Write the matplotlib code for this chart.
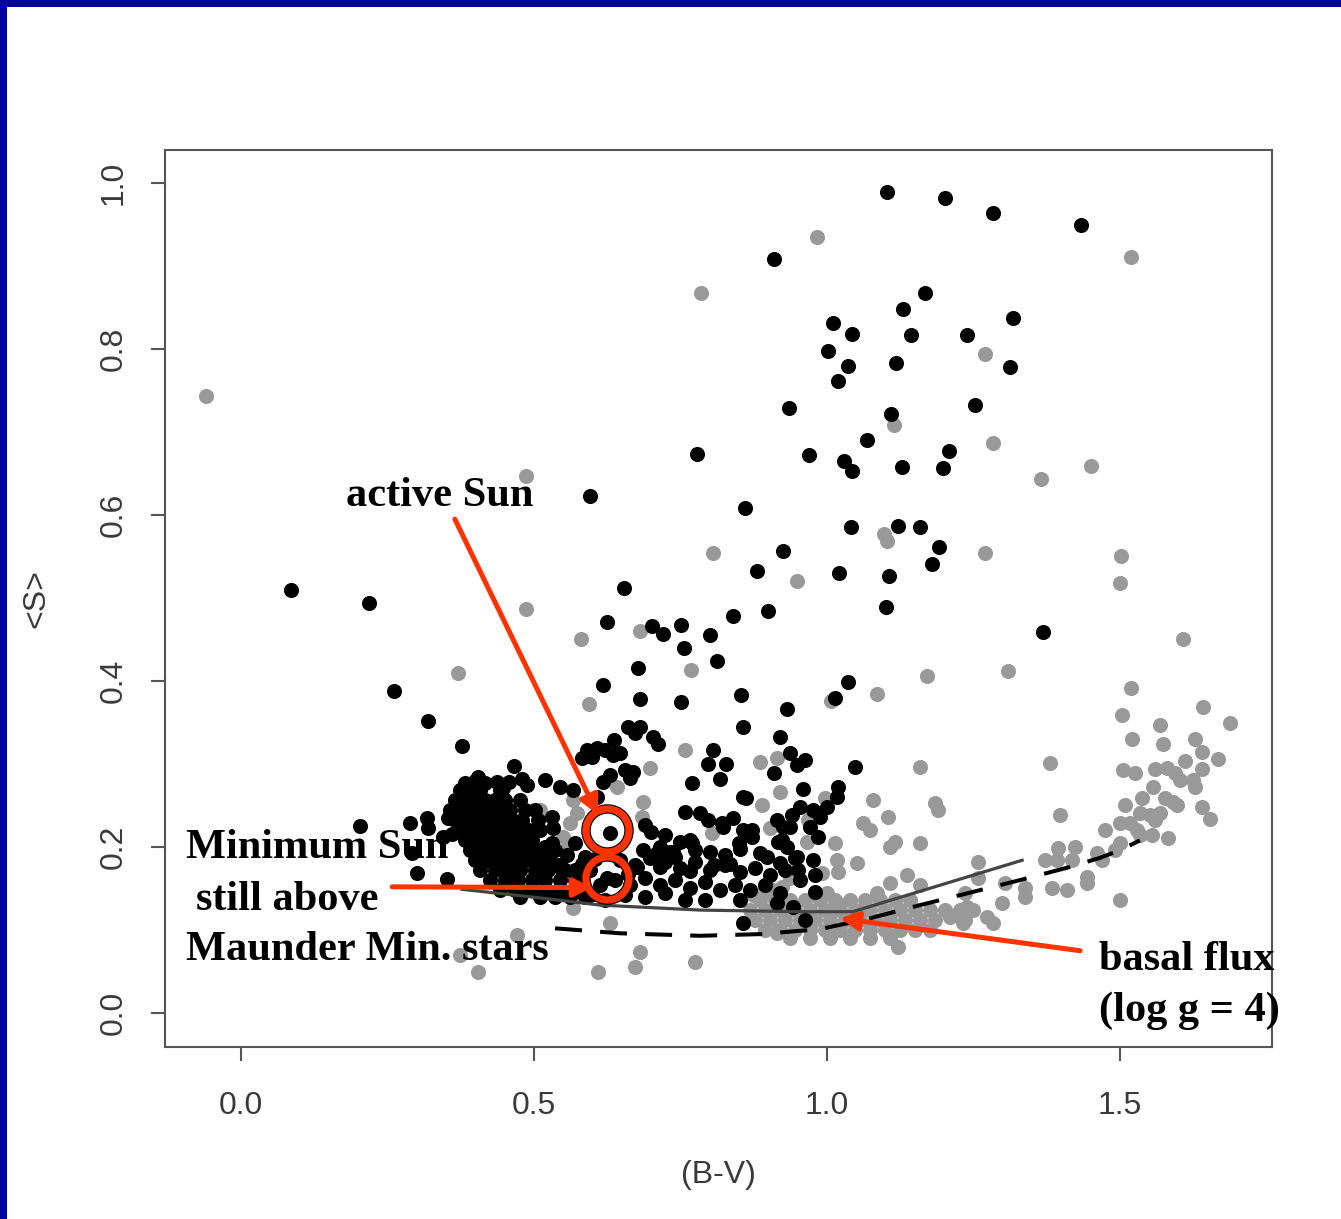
import matplotlib
matplotlib.use("Agg")
import matplotlib.pyplot as plt
from matplotlib.patches import Rectangle

# ---------------------------------------------------------------------------
# Stars with cycling activity (black) and flat / other stars (grey)
# ---------------------------------------------------------------------------
black_bv = [
    1.102, 1.201, 1.283, 1.434, 0.910, 1.168, 1.129, 1.317, 1.010, 1.043,
    1.143, 1.239, 1.002, 1.036, 1.118, 1.312, 1.019, 0.935, 1.253, 1.109,
    1.068, 1.208, 0.778, 0.969, 1.029, 1.043, 1.128, 1.198, 0.596, 0.860,
    1.041, 1.121, 1.159, 0.925, 1.191, 0.881, 1.020, 1.106, 1.179, 0.085,
    0.218, 0.654, 0.899, 1.101, 1.369, 0.625, 0.840, 0.701, 0.720, 0.751,
    0.800, 0.756, 0.812, 0.677, 0.618, 0.261, 1.036, 1.014, 0.853, 0.681,
    0.932, 0.751, 0.319, 0.660, 0.637, 0.857, 0.920, 0.703, 0.712, 0.377,
    1.048, 0.466,
    # dense group of G/K dwarfs
    0.374, 0.391, 0.408, 0.442,
    0.365, 0.382, 0.399, 0.416, 0.433, 0.451, 0.476,
    0.357, 0.374, 0.391, 0.408, 0.425, 0.442, 0.459, 0.485, 0.502,
    0.365, 0.382, 0.404, 0.425, 0.442, 0.462, 0.480, 0.507,
    0.374, 0.391, 0.411, 0.433, 0.451, 0.468, 0.490, 0.510,
    0.382, 0.399, 0.421, 0.439, 0.459, 0.476, 0.497,
    0.391, 0.408, 0.428, 0.451, 0.468, 0.490, 0.510, 0.531,
    0.399, 0.421, 0.442, 0.462, 0.485, 0.507, 0.527,
    0.408, 0.433, 0.456, 0.476, 0.502, 0.524, 0.548,
    0.425, 0.451, 0.473, 0.497, 0.519, 0.544,
    0.442, 0.468, 0.493, 0.519, 0.544, 0.570,
    0.476, 0.510, 0.536, 0.561, 0.587,
    0.203, 0.288, 0.317, 0.319, 0.353, 0.292, 0.300, 0.352,
    0.404, 0.437, 0.447, 0.488, 0.519, 0.544, 0.567, 0.590, 0.608, 0.621,
    0.582, 0.599, 0.635, 0.647, 0.672, 0.681, 0.655, 0.669, 0.664, 0.618,
    0.630, 0.608, 0.531, 0.532, 0.531, 0.570, 0.587, 0.630, 0.625, 0.715,
    0.710, 0.766, 0.737, 0.770, 0.758, 0.783, 0.797, 0.821, 0.840, 0.863,
    0.872, 0.915, 0.925, 0.940, 0.954, 0.976, 0.988, 1.017, 0.971, 0.985,
    0.916, 0.898, 0.949, 0.976, 0.857, 0.857, 0.962, 0.805, 0.797, 0.828,
    0.817, 0.937, 0.962, 0.949, 0.910, 1.019, 0.959, 0.862, 1.000, 0.937,
    0.823, 0.857, 0.872, 0.923, 0.932, 0.770, 0.850, 0.945, 0.951, 0.886,
    0.920,
    0.647, 0.672, 0.698, 0.724, 0.749, 0.775, 0.800, 0.826, 0.852, 0.877,
    0.903, 0.928, 0.954, 0.980,
    0.638, 0.664, 0.689, 0.715, 0.741, 0.766, 0.792, 0.817, 0.843, 0.869,
    0.894, 0.920,
    0.655, 0.689, 0.724, 0.758, 0.792, 0.852, 0.915, 0.942, 0.980,
    0.596, 0.570, 0.596, 0.621,
    # further members of the crowded region
    0.544, 0.570, 0.613, 0.556, 0.582, 0.604, 0.519, 0.536, 0.553,
    0.686, 0.707, 0.732, 0.700, 0.724, 0.749, 0.775, 0.690, 0.715,
    0.741, 0.766, 0.800, 0.826, 0.851, 0.834, 0.808, 0.660, 0.676,
    0.457, 0.480, 0.416, 0.399, 0.382, 0.360, 0.345,
]
black_s = [
    0.989, 0.982, 0.964, 0.949, 0.908, 0.867, 0.848, 0.837, 0.831, 0.818,
    0.817, 0.817, 0.798, 0.780, 0.783, 0.778, 0.761, 0.729, 0.733, 0.722,
    0.690, 0.677, 0.673, 0.672, 0.665, 0.653, 0.658, 0.657, 0.623, 0.608,
    0.586, 0.587, 0.586, 0.557, 0.561, 0.533, 0.530, 0.527, 0.541, 0.510,
    0.494, 0.512, 0.484, 0.489, 0.459, 0.471, 0.478, 0.466, 0.457, 0.467,
    0.455, 0.440, 0.424, 0.416, 0.395, 0.388, 0.399, 0.380, 0.383, 0.378,
    0.366, 0.375, 0.352, 0.345, 0.329, 0.345, 0.333, 0.333, 0.324, 0.322,
    0.296, 0.298,
    0.269, 0.269, 0.269, 0.269,
    0.257, 0.257, 0.257, 0.257, 0.257, 0.257, 0.257,
    0.245, 0.245, 0.245, 0.245, 0.245, 0.245, 0.245, 0.245, 0.245,
    0.233, 0.233, 0.233, 0.233, 0.233, 0.233, 0.233, 0.233,
    0.220, 0.220, 0.220, 0.220, 0.220, 0.220, 0.220, 0.220,
    0.208, 0.208, 0.208, 0.208, 0.208, 0.208, 0.208,
    0.196, 0.196, 0.196, 0.196, 0.196, 0.196, 0.196, 0.196,
    0.184, 0.184, 0.184, 0.184, 0.184, 0.184, 0.184,
    0.172, 0.172, 0.172, 0.172, 0.172, 0.172, 0.172,
    0.160, 0.160, 0.160, 0.160, 0.160, 0.160,
    0.148, 0.148, 0.148, 0.148, 0.148, 0.148,
    0.140, 0.140, 0.140, 0.140, 0.140,
    0.225, 0.229, 0.235, 0.223, 0.235, 0.193, 0.169, 0.161,
    0.284, 0.278, 0.271, 0.275, 0.281, 0.272, 0.269, 0.317, 0.319, 0.317,
    0.307, 0.308, 0.311, 0.313, 0.337, 0.345, 0.293, 0.290, 0.283, 0.278,
    0.287, 0.260, 0.236, 0.223, 0.205, 0.205, 0.188, 0.217, 0.163, 0.200,
    0.193, 0.208, 0.194, 0.277, 0.242, 0.241, 0.233, 0.229, 0.235, 0.217,
    0.220, 0.233, 0.224, 0.239, 0.248, 0.245, 0.236, 0.260, 0.224, 0.212,
    0.206, 0.188, 0.188, 0.184, 0.260, 0.108, 0.112, 0.317, 0.300, 0.300,
    0.282, 0.313, 0.305, 0.299, 0.289, 0.272, 0.270, 0.259, 0.248, 0.224,
    0.224, 0.220, 0.212, 0.208, 0.200, 0.205, 0.205, 0.187, 0.172, 0.193,
    0.181,
    0.184, 0.178, 0.187, 0.182, 0.175, 0.182, 0.172, 0.178, 0.170, 0.175,
    0.166, 0.172, 0.160, 0.166,
    0.160, 0.154, 0.163, 0.154, 0.160, 0.151, 0.158, 0.148, 0.154, 0.148,
    0.154, 0.145,
    0.142, 0.140, 0.145, 0.136, 0.136, 0.136, 0.133, 0.128, 0.146,
    0.172, 0.160, 0.142, 0.136,
    0.178, 0.172, 0.154, 0.190, 0.180, 0.185, 0.200, 0.196, 0.172,
    0.196, 0.190, 0.194, 0.218, 0.214, 0.206, 0.196, 0.226, 0.176,
    0.188, 0.171, 0.194, 0.190, 0.198, 0.180, 0.178, 0.168, 0.176,
    0.278, 0.282, 0.277, 0.280, 0.277, 0.216, 0.212,
]

grey_bv = [
    -0.060, 0.983, 0.785, 1.519, 1.270, 1.114, 1.283, 0.486, 1.451, 1.365,
    0.805, 1.097, 1.102, 0.949, 1.270, 1.502, 1.500, 0.486, 0.580, 0.681,
    0.768, 0.370, 1.309, 1.608, 1.171, 1.085, 1.007, 0.594, 1.519, 1.642,
    1.688, 1.503, 1.568, 1.520, 1.573, 1.628, 1.667, 1.381, 1.159, 0.758,
    1.640, 1.611, 1.640, 1.505, 1.526, 1.560, 1.580, 1.594, 1.602, 1.625,
    1.628, 1.556, 1.538, 1.577, 1.590, 1.597, 1.509, 1.640, 1.654, 1.534,
    1.551, 1.568, 1.560, 1.398, 1.500, 1.517, 1.529, 1.474, 1.534, 1.555,
    1.582, 1.500, 1.491, 1.461, 1.469, 1.423, 1.394, 1.418, 1.372, 1.393,
    1.444, 1.444, 1.384, 1.410, 1.500, 1.258, 1.304, 1.338, 1.338, 1.299,
    1.239, 1.249, 1.273, 1.283, 1.210, 1.232, 1.258, 1.235, 1.137, 1.108,
    1.159, 1.085, 1.051, 1.078, 1.184, 1.189, 1.104, 1.061, 1.073, 1.159,
    1.116, 1.108, 1.121,
    0.698, 0.642, 0.686, 0.684, 0.567, 0.573, 0.561, 0.549, 0.556, 0.510,
    0.493, 0.485, 0.567, 0.630, 0.886, 0.915, 0.920, 0.889, 0.997, 0.968,
    0.903, 0.804, 0.966, 1.014, 1.017, 0.991, 1.019, 0.937, 0.923, 0.908,
    0.891, 0.874, 1.000, 1.017, 0.471, 0.374, 0.404, 0.609, 0.672, 0.681,
    0.775, 0.915,
    # crowded band of inactive stars just above the basal level
    0.886, 0.911, 0.937, 0.962, 0.988, 1.014, 1.039, 1.065, 1.090, 1.116, 1.142,
    0.869, 0.894, 0.920, 0.945, 0.971, 0.997, 1.022, 1.048, 1.073, 1.099,
    1.125, 1.150, 1.176, 1.201, 1.227,
    0.877, 0.903, 0.928, 0.954, 0.980, 1.005, 1.031, 1.056, 1.082, 1.108,
    1.133, 1.159, 1.184, 1.235,
    0.894, 0.920, 0.945, 0.971, 0.997, 1.022, 1.048, 1.073, 1.099, 1.125,
    1.150, 1.176,
    0.937, 0.971, 1.005, 1.039, 1.073, 1.108,
]
grey_s = [
    0.743, 0.935, 0.867, 0.911, 0.794, 0.708, 0.687, 0.647, 0.659, 0.643,
    0.554, 0.577, 0.569, 0.520, 0.554, 0.551, 0.518, 0.487, 0.451, 0.460,
    0.413, 0.410, 0.412, 0.451, 0.406, 0.384, 0.376, 0.372, 0.392, 0.369,
    0.349, 0.359, 0.347, 0.330, 0.324, 0.330, 0.306, 0.301, 0.296, 0.317,
    0.314, 0.304, 0.294, 0.293, 0.289, 0.294, 0.295, 0.289, 0.281, 0.281,
    0.272, 0.272, 0.259, 0.259, 0.254, 0.251, 0.251, 0.248, 0.234, 0.241,
    0.239, 0.241, 0.233, 0.239, 0.229, 0.229, 0.220, 0.220, 0.214, 0.214,
    0.211, 0.205, 0.196, 0.193, 0.184, 0.200, 0.199, 0.184, 0.184, 0.184,
    0.164, 0.157, 0.151, 0.148, 0.136, 0.182, 0.157, 0.151, 0.140, 0.133,
    0.128, 0.124, 0.116, 0.108, 0.116, 0.108, 0.163, 0.145, 0.166, 0.157,
    0.154, 0.145, 0.181, 0.257, 0.253, 0.245, 0.236, 0.229, 0.220, 0.205,
    0.206, 0.200, 0.080,
    0.295, 0.272, 0.254, 0.236, 0.257, 0.241, 0.229, 0.212, 0.199, 0.245,
    0.172, 0.184, 0.127, 0.108, 0.302, 0.307, 0.266, 0.251, 0.259, 0.233,
    0.223, 0.217, 0.206, 0.205, 0.184, 0.169, 0.170, 0.163, 0.152, 0.148,
    0.145, 0.142, 0.145, 0.133, 0.094, 0.070, 0.049, 0.049, 0.055, 0.073,
    0.061, 0.096,
    0.136, 0.136, 0.136, 0.136, 0.136, 0.136, 0.136, 0.136, 0.136, 0.136, 0.136,
    0.124, 0.124, 0.124, 0.124, 0.124, 0.124, 0.124, 0.124, 0.124, 0.124,
    0.124, 0.124, 0.124, 0.124, 0.124,
    0.112, 0.112, 0.112, 0.112, 0.112, 0.112, 0.112, 0.112, 0.112, 0.112,
    0.112, 0.112, 0.112, 0.112,
    0.100, 0.100, 0.100, 0.100, 0.100, 0.100, 0.100, 0.100, 0.100, 0.100,
    0.100, 0.100,
    0.090, 0.090, 0.090, 0.090, 0.090, 0.090,
]

# Lower envelope of the main-sequence stars (solid) and basal flux, log g = 4 (dashed)
envelope_bv = [0.377, 0.493, 0.613, 0.783, 0.954, 1.044, 1.333]
envelope_s = [0.149, 0.140, 0.130, 0.124, 0.122, 0.122, 0.184]
basal_bv = [0.536, 0.647, 0.783, 0.886, 0.988, 1.073, 1.159, 1.244, 1.329,
            1.415, 1.466, 1.500, 1.534]
basal_s = [0.102, 0.096, 0.093, 0.095, 0.101, 0.114, 0.130, 0.145, 0.160,
           0.176, 0.187, 0.196, 0.208]

# Sun at activity maximum and minimum
sun_bv = [0.625, 0.625]
sun_s = [0.220, 0.163]

x_ticks = [0.0, 0.5, 1.0, 1.5]
y_ticks = [0.0, 0.2, 0.4, 0.6, 0.8, 1.0]

RED = "#ff3300"
AXIS_GREY = "#3a3a3a"

W, H = 1341, 1219
fig = plt.figure(figsize=(W / 100, H / 100), dpi=100)
fig.patch.set_facecolor("white")

# Slide frame
fig.patches.append(Rectangle((0, 1 - 7 / H), 1, 7 / H, transform=fig.transFigure,
                             facecolor="#00009c", edgecolor="none"))
fig.patches.append(Rectangle((0, 0), 7 / W, 1, transform=fig.transFigure,
                             facecolor="#00009c", edgecolor="none"))

ax = fig.add_axes([165 / W, 1 - 1047 / H, (1272 - 165) / W, (1047 - 150) / H])
ax.set_xlim(-0.1297, 1.7594)
ax.set_ylim(-0.041, 1.0398)

ax.scatter(grey_bv, grey_s, s=118, c="#999999", linewidths=0, zorder=2)
ax.scatter(black_bv, black_s, s=118, c="black", linewidths=0, zorder=3)

ax.plot(basal_bv, basal_s, color="black", lw=2.9, linestyle=(0, (6.7, 4.5)),
        zorder=4, solid_capstyle="butt", dash_capstyle="butt")
ax.plot(envelope_bv, envelope_s, color="#444444", lw=2.3, zorder=4)

# Sun markers
ax.plot(sun_bv, sun_s, linestyle="none", marker="o", markersize=31,
        markerfacecolor="none", markeredgecolor="black", markeredgewidth=6.8,
        zorder=5)
ax.plot(sun_bv, sun_s, linestyle="none", marker="o", markersize=31,
        markerfacecolor="none", markeredgecolor=RED, markeredgewidth=5.2,
        zorder=6)

arrow = dict(arrowstyle="-|>,head_length=0.55,head_width=0.28", color=RED,
             lw=3.6, mutation_scale=20, shrinkA=0, shrinkB=0)
ax.annotate("", xy=(0.609, 0.239), xytext=(0.365, 0.595), arrowprops=arrow, zorder=7)
ax.annotate("", xy=(0.599, 0.151), xytext=(0.258, 0.152), arrowprops=arrow, zorder=7)
ax.annotate("", xy=(1.022, 0.114), xytext=(1.432, 0.075), arrowprops=arrow, zorder=7)

# Labels
lab = dict(family="Liberation Serif", weight="bold", fontsize=30.5, color="black",
           va="baseline", ha="left", zorder=8)
def ftext(px, py, s):
    fig.text(px / W, 1 - py / H, s, **lab)

ftext(346, 506, "active Sun")
ftext(186, 858, "Minimum Sun")
ftext(196, 910, "still above")
ftext(186, 960, "Maunder Min. stars")
ftext(1099, 970, "basal flux")
ftext(1099, 1021, "(log g = 4)")

# Axes styling
for sp in ax.spines.values():
    sp.set_color("#555555")
    sp.set_linewidth(1.5)
ax.set_xticks(x_ticks)
ax.set_yticks(y_ticks)
ax.set_xticklabels([f"{v:.1f}" for v in x_ticks])
ax.set_yticklabels([f"{v:.1f}" for v in y_ticks], rotation=90, va="center")
ax.tick_params(direction="out", length=10, width=1.5, color="#555555",
               labelsize=23, labelcolor=AXIS_GREY)
ax.tick_params(axis="x", pad=22)
ax.tick_params(axis="y", pad=16)
for t in ax.get_xticklabels() + ax.get_yticklabels():
    t.set_family("Liberation Sans")
ax.set_xlabel("(B-V)", fontsize=23, color=AXIS_GREY, family="Liberation Sans",
              labelpad=28)
ax.set_ylabel("<S>", fontsize=23, color=AXIS_GREY, family="Liberation Sans",
              labelpad=34)

fig.savefig("out.png", dpi=100, facecolor="white")
